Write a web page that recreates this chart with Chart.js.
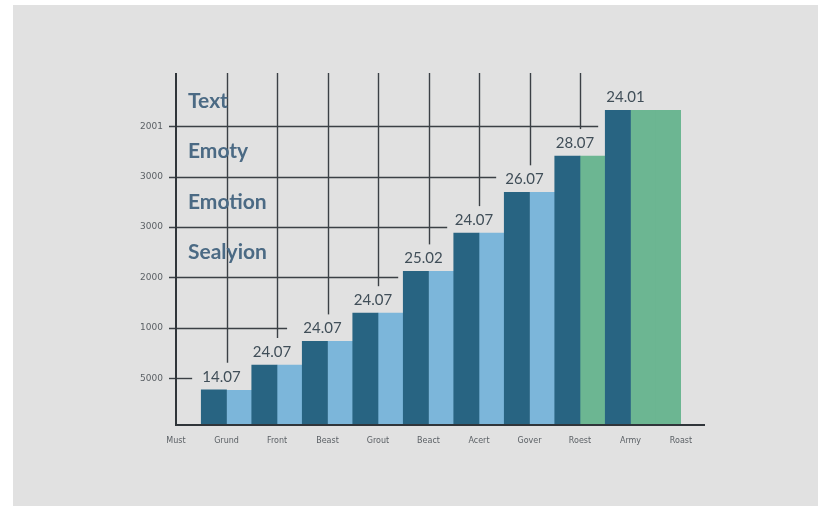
<!DOCTYPE html>
<html>
<head>
<meta charset="utf-8">
<script src="https://cdn.jsdelivr.net/npm/chart.js@4.4.1/dist/chart.umd.min.js"></script>
<style>
  html, body { margin: 0; padding: 0; background: #ffffff; }
  #wrap { position: relative; width: 818px; height: 509px; }
  #panel { position: absolute; left: 13px; top: 5px; width: 805px; height: 501px; background: #e1e1e1; }
  #chart { position: absolute; left: 0; top: 0; }
</style>
</head>
<body>
<div id="wrap">
  <div id="panel"></div>
  <canvas id="chart" width="818" height="509"></canvas>
</div>
<script>
// categories along the bottom axis
const categories = ["Must", "Grund", "Front", "Beast", "Grout", "Beact", "Acert", "Gover", "Roest", "Army", "Roast"];
// left (dark) bar of each pair, and right (light / green) bar
const frontValues = [null, 0.77, 1.26, 1.73, 2.29, 3.12, 3.88, 4.69, 5.41, 6.32, 6.32];
const backValues  = [null, 0.76, 1.26, 1.73, 2.29, 3.12, 3.88, 4.69, 5.41, 6.32, null];
// text printed above each pair
const pairLabels = [null, "14.07", "24.07", "24.07", "24.07", "25.02", "24.07", "26.07", "28.07", "24.01", null];
// left axis tick texts, bottom to top
const yTickLabels = ["5000", "1000", "2000", "3000", "3000", "2001"];
// the four words written in the upper left
const noteLines = ["Text", "Emoty", "Emotion", "Sealyion"];

const DARK = "#286482";
const LIGHT = "#7cb6da";
const GREEN = "#6cb692";

// last pair (and the slot after it) is painted green
const frontColors = categories.map((c, i) => (i === 10 ? GREEN : DARK));
const backColors = categories.map((c, i) => (i >= 8 ? GREEN : LIGHT));

// staircase grid, axis lines, pair labels and the word list
const decorPlugin = {
    id: "decor",
    afterDatasetsDraw(chart, args, opts) {
        const ctx = chart.ctx;
        const area = chart.chartArea;
        const x = chart.scales.x;
        const y = chart.scales.y;
        const front = chart.getDatasetMeta(0).data;

        ctx.save();

        // horizontal lines stop short of the pair that sits at their height
        ctx.strokeStyle = "#3b4045";
        ctx.lineWidth = 1.4;
        opts.hEnds.forEach((end, i) => {
            const py = Math.round(y.getPixelForValue(i + 1)) + 0.5;
            const px = area.left + end * (x.getPixelForValue(1) - x.getPixelForValue(0));
            ctx.beginPath();
            ctx.moveTo(area.left - 7, py);
            ctx.lineTo(px, py);
            ctx.stroke();
        });

        // vertical lines drop from the top down to each pair's label
        for (let i = 1; i <= 8; i++) {
            const px = Math.round(x.getPixelForValue(i)) + 0.5;
            const top = y.getPixelForValue(frontValues[i]);
            ctx.beginPath();
            ctx.moveTo(px, area.top - 3);
            ctx.lineTo(px, top - 27);
            ctx.stroke();
        }

        // axes
        ctx.strokeStyle = "#30353a";
        ctx.lineWidth = 2;
        ctx.beginPath();
        ctx.moveTo(area.left, area.top - 3);
        ctx.lineTo(area.left, area.bottom);
        ctx.lineTo(opts.axisEnd, area.bottom);
        ctx.stroke();

        // labels above the pairs
        ctx.fillStyle = "#404e58";
        ctx.font = "15px Lato, 'Noto Sans', sans-serif";
        ctx.textAlign = "left";
        ctx.textBaseline = "alphabetic";
        pairLabels.forEach((txt, i) => {
            if (!txt) return;
            const el = front[i];
            ctx.fillText(txt, el.x - el.width / 2 + 1, el.y - 8);
        });

        // word list between the upper grid rows
        ctx.fillStyle = "#4b6a84";
        ctx.font = "bold 21px Lato, 'Noto Sans', sans-serif";
        ctx.textBaseline = "middle";
        noteLines.forEach((txt, i) => {
            ctx.fillText(txt, area.left + 12, y.getPixelForValue(6.5 - i));
        });

        ctx.restore();
    }
};

new Chart(document.getElementById("chart"), {
    type: "bar",
    data: {
        labels: categories,
        datasets: [
            { data: frontValues, backgroundColor: frontColors, borderWidth: 0 },
            { data: backValues, backgroundColor: backColors, borderWidth: 0 }
        ]
    },
    options: {
        responsive: false,
        animation: false,
        layout: { padding: { left: 130, right: 137, top: 76, bottom: 0 } },
        plugins: {
            legend: { display: false },
            tooltip: { enabled: false },
            decor: { hEnds: [0.32, 2.2, 4.4, 5.37, 6.34, 8.36], axisEnd: 705 }
        },
        datasets: { bar: { categoryPercentage: 1, barPercentage: 1 } },
        scales: {
            x: {
                offset: false,
                grid: { display: false, drawTicks: false },
                border: { display: false },
                ticks: {
                    autoSkip: false,
                    maxRotation: 0,
                    padding: 11,
                    color: "#5a5f64",
                    font: { size: 8, family: "'DejaVu Sans', sans-serif" }
                },
                afterFit(scale) { scale.height = 84; }
            },
            y: {
                min: 0.07,
                max: 7,
                grid: { display: false, drawTicks: false },
                border: { display: false },
                afterBuildTicks(scale) {
                    scale.ticks = yTickLabels.map((t, i) => ({ value: i + 1 }));
                },
                ticks: {
                    padding: 13,
                    color: "#5a5f64",
                    font: { size: 9, family: "'DejaVu Sans', sans-serif" },
                    callback: (value) => yTickLabels[value - 1] ?? ""
                },
                afterFit(scale) { scale.width = 46; }
            }
        }
    },
    plugins: [decorPlugin]
});
</script>
</body>
</html>
